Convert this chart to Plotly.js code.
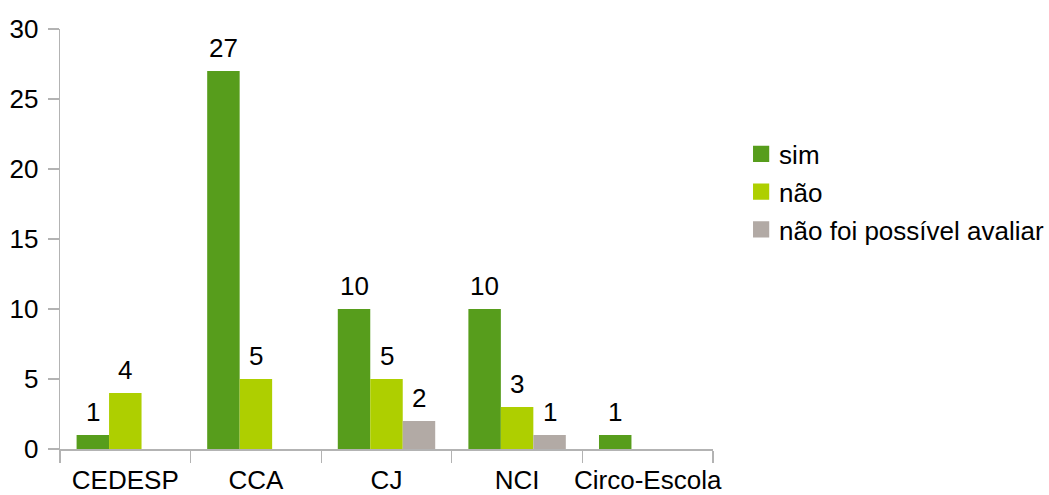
<!DOCTYPE html>
<html>
<head>
<meta charset="utf-8">
<script src="https://cdn.plot.ly/plotly-3.0.1.min.js"></script>
<style>
  html, body { margin: 0; padding: 0; background: #fff; }
  #chart { width: 1049px; height: 495px; }
</style>
</head>
<body>
<div id="chart"></div>
<script>
// Categories and series counts
const categories = ["CEDESP", "CCA", "CJ", "NCI", "Circo-Escola"];
const simValues = [1, 27, 10, 10, 1];
const naoValues = [4, 5, 5, 3, null];
const naoAvaliarValues = [null, null, 2, 1, null];
const seriesNames = ["sim", "não", "não foi possível avaliar"];
const yTicks = [0, 5, 10, 15, 20, 25, 30];

const colors = ["#579d1c", "#aecf00", "#b2aaa5"];
const font = { family: "Liberation Sans, Arial, sans-serif", size: 26, color: "#000" };

const W = 1049, H = 495;
const margin = { l: 60, r: 336, t: 29, b: 46, autoexpand: false };
const bargap = 0.254;
const series = [simValues, naoValues, naoAvaliarValues];

const traces = series.map((vals, i) => ({
  type: "bar",
  name: seriesNames[i],
  legendgroup: "g" + i,
  x: categories,
  y: vals,
  marker: { color: colors[i], line: { width: 0 } },
  hoverinfo: "skip"
}));

// Value labels sit a little above each bar; horizontal offset follows the
// grouped-bar slot width derived from the plot width and bargap.
const plotW = W - margin.l - margin.r;
const slotPx = plotW / categories.length * (1 - bargap) / series.length;
const annotations = [];
series.forEach((vals, i) => {
  vals.forEach((v, j) => {
    if (v === null) return;
    annotations.push({
      x: categories[j], y: v, xref: "x", yref: "y",
      text: String(v), showarrow: false,
      xanchor: "center", yanchor: "bottom",
      xshift: (i - (series.length - 1) / 2) * slotPx,
      yshift: 6,
      font: font
    });
  });
});

const layout = {
  width: W,
  height: H,
  margin: margin,
  paper_bgcolor: "#fff",
  plot_bgcolor: "#fff",
  font: font,
  barmode: "group",
  bargap: bargap,
  bargroupgap: 0,
  showlegend: true,
  legend: {
    x: 1.04, y: 0.612, xanchor: "left", yanchor: "middle",
    font: font,
    tracegroupgap: 1,
    itemwidth: 30,
    bgcolor: "rgba(0,0,0,0)"
  },
  annotations: annotations,
  xaxis: {
    type: "category",
    range: [-0.5, 4.5],
    tickson: "boundaries",
    ticks: "outside",
    ticklen: 12,
    tickcolor: "#b3b3b3",
    tickwidth: 1.3,
    tickangle: 0,
    showline: true,
    linecolor: "#b3b3b3",
    linewidth: 1.5,
    showgrid: false,
    zeroline: false,
    tickfont: font,
    ticklabelstandoff: 7,
    fixedrange: true
  },
  yaxis: {
    range: [0, 30],
    tickmode: "array",
    tickvals: yTicks,
    ticktext: yTicks.map(String),
    ticks: "outside",
    ticklen: 11,
    tickcolor: "#b3b3b3",
    tickwidth: 1.3,
    showline: true,
    linecolor: "#b3b3b3",
    linewidth: 1.3,
    showgrid: false,
    zeroline: false,
    tickfont: font,
    ticklabelstandoff: 4,
    fixedrange: true
  }
};

Plotly.newPlot("chart", traces, layout, { displayModeBar: false, staticPlot: true }).then(gd => {
  // Larger square swatches in the legend, set closer to their labels
  gd.querySelectorAll(".legend .legendpoints path").forEach(p => {
    p.setAttribute("transform", "translate(22,0) scale(1.35)");
  });
});
</script>
</body>
</html>
